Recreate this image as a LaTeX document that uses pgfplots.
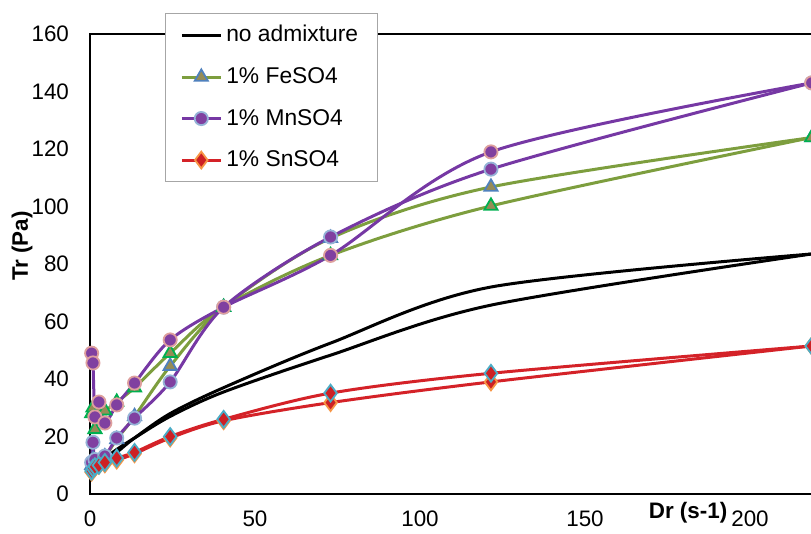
\documentclass[border=0pt]{standalone}
\usepackage{pgfplots}
\pgfplotsset{compat=1.18}
\usepackage{fontspec}
\setmainfont{Liberation Sans}
\definecolor{olv}{RGB}{125,158,62}
\definecolor{tanf}{RGB}{150,140,86}
\definecolor{grb}{RGB}{0,176,80}
\definecolor{blb}{RGB}{79,129,189}
\definecolor{prp}{RGB}{118,56,164}
\definecolor{prf}{RGB}{128,64,160}
\definecolor{pkb}{RGB}{222,160,158}
\definecolor{lbb}{RGB}{149,179,215}
\definecolor{rdl}{RGB}{212,34,40}
\definecolor{rdf}{RGB}{205,32,36}
\definecolor{orb}{RGB}{247,150,70}
\definecolor{cyb}{RGB}{75,172,198}
\begin{document}
\begin{tikzpicture}
\begin{axis}[
  x=1.65pt, y=1.4375pt,
  xmin=0, xmax=230, ymin=0, ymax=160,
  xtick={0,50,100,150,200}, ytick={0,20,...,160},
  major tick length=0pt,
  axis line style={line width=1.3pt},
  font=\fontsize{11.2}{13}\selectfont,
  tick label style={font=\fontsize{11.2}{13}\selectfont},
  /pgf/number format/assume math mode=true,
  xticklabel style={yshift=-5pt},
  yticklabel style={xshift=-7pt},
  xlabel={\textbf{Dr (s-1)}}, ylabel={\textbf{Tr (Pa)}},
  xlabel style={at={(axis description cs:0.788,-0.041)}, anchor=center},
  ylabel style={at={(axis description cs:-0.0896,0.539)}, anchor=center},
  legend cell align=left,
  legend style={at={(axis description cs:0.0987,1.0456)}, anchor=north west,
    draw=gray!70, fill=white, font=\fontsize{11.4}{13}\selectfont,
    row sep=7.3pt, inner xsep=7.5pt, inner ysep=4pt,
    /tikz/every even column/.append style={column sep=-1.5pt}},
  legend image code/.code={\draw[mark repeat=2,mark phase=2,#1] plot coordinates {(0pt,0pt) (9.75pt,0pt) (19.5pt,0pt)};},
  every axis plot/.append style={line width=1.5pt},
]
% no admixture
\addplot[black, smooth] coordinates {(0.5,7.5) (0.9,8.5) (1.5,9.5) (2.7,10.5) (4.5,11.5) (8.1,14.5) (13.5,19.5) (24.3,28) (40.5,37) (72.9,52.5) (121.5,72) (218.7,83.5)};
\addlegendentry{no admixture}
\addplot[black, smooth, forget plot] coordinates {(0.5,7.5) (0.9,9) (1.5,10) (2.7,11) (4.5,12.5) (8.1,15.5) (13.5,19.5) (24.3,27) (40.5,35.5) (72.9,48.3) (121.5,65.7) (218.7,83.5)};
% FeSO4
\addplot[olv, smooth, mark=triangle*, mark size=3.8pt, mark options={fill=tanf, draw=blb, line width=0.9pt}] coordinates {(0.5,10) (0.9,12) (1.5,11) (4.5,13) (8.1,19) (13.5,27) (24.3,44.5) (40.5,65) (72.9,89) (121.5,106.8) (218.7,124)};
\addlegendentry{1\% FeSO4}
\addplot[olv, smooth, forget plot, mark=triangle*, mark size=3.8pt, mark options={fill=tanf, draw=grb, line width=0.9pt}] coordinates {(0.5,28) (0.9,30) (1.5,22.5) (2.7,29) (4.5,29) (8.1,32) (13.5,37) (24.3,49) (40.5,65) (72.9,83) (121.5,100.2) (218.7,124)};
% MnSO4
\addplot[prp, smooth, mark=*, mark size=3.3pt, mark options={fill=prf, draw=lbb, line width=0.9pt}] coordinates {(0.5,11) (0.9,18) (1.5,12) (4.5,13.2) (8.1,19.5) (13.5,26.4) (24.3,39) (40.5,65) (72.9,89.4) (121.5,113) (218.7,143)};
\addlegendentry{1\% MnSO4}
\addplot[prp, smooth, forget plot, mark=*, mark size=3.3pt, mark options={fill=prf, draw=pkb, line width=0.9pt}] coordinates {(0.5,49) (0.9,45.6) (1.5,26.8) (2.7,32) (4.5,24.7) (8.1,31) (13.5,38.6) (24.3,53.6) (40.5,65) (72.9,83) (121.5,119) (218.7,143)};
% SnSO4
\addplot[rdl, smooth, mark=diamond*, mark size=4.2pt, mark options={fill=rdf, draw=orb, line width=0.9pt}] coordinates {(0.5,7.6) (0.9,8.5) (1.5,9.2) (2.7,10) (4.5,10.5) (8.1,11.8) (13.5,14) (24.3,19.5) (40.5,25.5) (72.9,31.8) (121.5,39) (218.7,51.5)};
\addlegendentry{1\% SnSO4}
\addplot[rdl, smooth, forget plot, mark=diamond*, mark size=4.2pt, mark options={fill=rdf, draw=cyb, line width=0.9pt}] coordinates {(0.5,8) (0.9,9) (1.5,9.5) (2.7,10) (4.5,11) (8.1,12.5) (13.5,14.5) (24.3,20) (40.5,26) (72.9,35.1) (121.5,42) (218.7,51.5)};
\coordinate (bbSW) at (axis cs:-27.27,-13.57);
\coordinate (bbNE) at (axis cs:218.48,171.83);
\end{axis}
\pgfresetboundingbox
\useasboundingbox (bbSW) rectangle (bbNE);
\end{tikzpicture}
\end{document}
